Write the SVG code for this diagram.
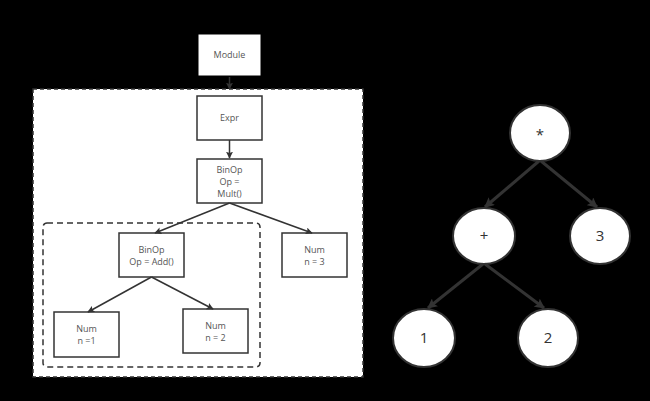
<svg xmlns="http://www.w3.org/2000/svg" width="650" height="401" viewBox="0 0 650 401">
<style>
.box{fill:#fff;stroke:#333;stroke-width:1.5}
.t{font-family:"Open Sans","Noto Sans",sans-serif;font-size:9px;fill:#555;text-anchor:middle}
.ct{font-family:"Open Sans","Noto Sans",sans-serif;font-size:15px;fill:#333;text-anchor:middle}
.c{fill:#fff;stroke:#333;stroke-width:2}
.e{stroke:#333;stroke-width:1.5;fill:none}
.e2{stroke:#333;stroke-width:3;fill:none}
</style>
<defs>
<marker id="a" viewBox="0 0 10 10" refX="9" refY="5" markerWidth="7" markerHeight="7" markerUnits="userSpaceOnUse" orient="auto"><path d="M0,0L10,5L0,10L2,5z" fill="#333"/></marker>
<marker id="b" viewBox="0 0 10 10" refX="9" refY="5" markerWidth="10" markerHeight="10" markerUnits="userSpaceOnUse" orient="auto"><path d="M0,0L10,5L0,10L2,5z" fill="#333"/></marker>
</defs>
<rect width="650" height="401" fill="#000"/>
<g id="outer-group"><rect x="33" y="89" width="330" height="288" fill="#fff" stroke="#333" stroke-width="1.5" stroke-dasharray="4,3"/></g>
<g id="inner-group"><rect x="43" y="223" width="217" height="144" rx="4" fill="#fff" stroke="#333" stroke-width="1.5" stroke-dasharray="6,4"/></g>
<g id="module"><rect x="197" y="33" width="65" height="44" fill="#fff" stroke="#000" stroke-width="3"/><text class="t" x="229.5" y="58">Module</text></g>
<g id="expr"><rect class="box" x="197" y="96" width="65" height="44"/><text class="t" x="229.5" y="121">Expr</text></g>
<g id="binop-mult"><rect class="box" x="197" y="159" width="65" height="44"/><text class="t" x="229.5" y="173">BinOp</text><text class="t" x="229.5" y="185">Op =</text><text class="t" x="229.5" y="197">Mult()</text></g>
<g id="binop-add"><rect class="box" x="119" y="233" width="65" height="44"/><text class="t" x="151.5" y="253">BinOp</text><text class="t" x="151.5" y="265">Op = Add()</text></g>
<g id="num3"><rect class="box" x="282" y="233" width="65" height="44"/><text class="t" x="314.5" y="253">Num</text><text class="t" x="314.5" y="265">n = 3</text></g>
<g id="num1"><rect class="box" x="54" y="312" width="65" height="45"/><text class="t" x="86.5" y="332">Num</text><text class="t" x="86.5" y="344">n =1</text></g>
<g id="num2"><rect class="box" x="183" y="309" width="65" height="44"/><text class="t" x="215.5" y="329">Num</text><text class="t" x="215.5" y="341">n = 2</text></g>
<g id="n-star"><ellipse class="c" cx="540" cy="133" rx="30" ry="28"/><text class="ct" x="540" y="140">*</text></g>
<g id="n-plus"><ellipse class="c" cx="484" cy="236" rx="31" ry="28"/><text class="ct" x="484" y="241">+</text></g>
<g id="n-3"><ellipse class="c" cx="600" cy="236" rx="30" ry="28"/><text class="ct" x="600" y="241">3</text></g>
<g id="n-1"><ellipse class="c" cx="424" cy="338" rx="31" ry="29"/><text class="ct" x="424" y="343">1</text></g>
<g id="n-2"><ellipse class="c" cx="548" cy="338" rx="30" ry="29"/><text class="ct" x="548" y="343">2</text></g>
<g id="connectors">
<path class="e" d="M229.5,77V89" marker-end="url(#a)"/>
<path class="e" d="M229.5,140V158" marker-end="url(#a)"/>
<path class="e" d="M229.5,203L155,233" marker-end="url(#a)"/>
<path class="e" d="M229.5,203L312,233" marker-end="url(#a)"/>
<path class="e" d="M151.5,277L88,312" marker-end="url(#a)"/>
<path class="e" d="M151.5,277L213,309" marker-end="url(#a)"/>
<path class="e2" d="M539,161L485,207" marker-end="url(#b)"/>
<path class="e2" d="M541,161L597,207" marker-end="url(#b)"/>
<path class="e2" d="M483,264L428,308" marker-end="url(#b)"/>
<path class="e2" d="M485,264L544,308" marker-end="url(#b)"/>
</g>
</svg>
